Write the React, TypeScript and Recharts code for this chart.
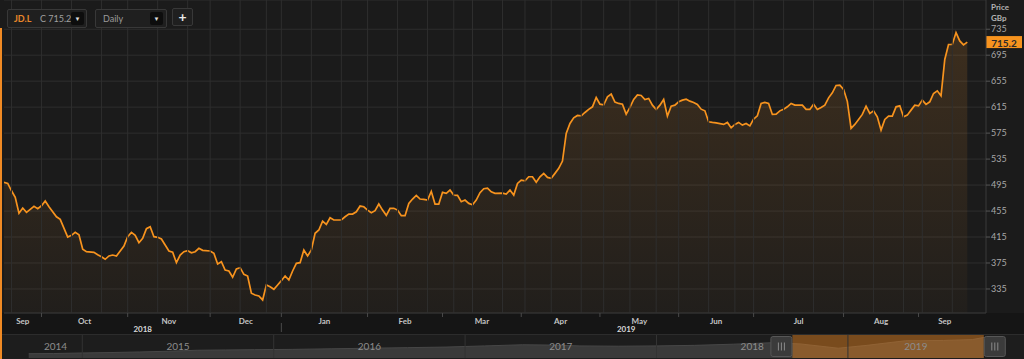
import React from 'react';
import { ComposedChart, AreaChart, Area, XAxis, YAxis, CartesianGrid, ReferenceLine, ReferenceArea } from 'recharts';

// trading-session index (0 = first session shown, mid Sep 2018)
const sessions = [0,1,2,3,4,5,6,7,8,9,10,11,12,14,15,17,18,19,20,21,22,24,25,26,27,28,29,30,32,33,34,35,36,37,38,39,40,41,42,43,44,45,46,47,48,49,50,51,52,53,55,56,57,58,59,60,61,62,63,64,65,66,67,68,69,70,71,72,73,74,75,76,77,78,79,80,81,82,83,84,85,86,87,88,90,91,92,93,94,95,96,97,98,99,100,101,102,103,104,105,106,107,108,109,110,111,112,113,114,115,116,117,118,119,120,121,122,123,124,125,126,127,128,129,130,131,133,134,135,136,137,138,139,140,141,142,143,144,145,146,147,148,149,150,151,152,153,154,155,156,157,158,159,160,161,162,163,164,165,166,167,168,169,170,171,172,173,174,175,176,177,178,179,180,181,182,183,184,185,186,187,188,189,190,192,193,194,195,196,197,198,199,200,201,202,203,204,205,206,207,208,209,210,211,213,214,215,216,217,218,219,220,221,222,223,224,225,226,227,228,229,230,231,232,233,234,235,236,237,238,239,240,241,242,243,244,245,246,247,248,249,250,251,252,253,254,255,256,257];

// JD.L close, GBp
const prices = [499.2,497.6,486.2,476.1,451.5,459.6,453.0,457.6,462.2,458.5,463.1,470.4,461.6,446.2,442.2,415.0,417.6,422.2,418.5,396.1,392.4,391.5,387.8,384.7,380.7,385.8,387.3,385.8,401.2,415.5,422.2,417.6,406.2,413.0,427.8,430.8,415.5,414.5,411.9,402.7,393.5,391.5,375.5,387.3,392.4,393.9,390.8,392.4,397.6,394.5,393.5,389.9,373.5,377.0,364.2,362.7,353.0,365.8,367.8,357.6,355.0,328.4,325.8,324.2,318.1,341.2,338.5,334.5,341.2,347.8,355.0,348.8,362.7,374.5,375.5,395.0,385.8,395.0,420.7,425.8,439.6,434.5,444.7,441.2,441.2,446.2,450.4,450.4,453.9,462.7,461.6,456.5,452.4,455.5,465.8,456.5,448.4,459.2,459.2,456.5,447.8,447.8,466.8,473.5,479.2,473.5,473.0,471.9,485.3,465.8,465.8,483.8,482.2,487.3,479.6,479.2,469.3,471.9,466.8,464.7,471.9,483.2,489.3,490.4,484.7,482.2,482.7,481.2,487.3,479.6,497.6,502.7,501.6,507.8,507.8,499.2,507.8,513.0,506.8,505.3,513.0,520.7,531.9,574.5,589.9,598.5,602.2,601.6,606.8,611.5,615.5,629.9,619.6,618.5,630.8,635.0,622.7,620.7,619.6,604.2,614.5,626.8,633.9,633.0,626.8,628.4,618.1,611.5,618.1,626.8,601.2,616.5,618.1,623.2,625.8,627.3,624.2,622.2,619.2,611.9,609.3,592.4,591.5,590.8,588.4,591.5,583.2,588.4,591.5,587.3,589.9,586.2,596.5,601.6,620.7,622.2,620.7,603.8,604.2,609.3,611.9,615.5,620.7,618.1,618.1,611.5,611.5,619.6,611.5,614.5,618.1,629.3,637.0,648.4,648.8,642.2,623.9,582.2,588.4,596.1,603.8,616.5,605.3,609.3,600.1,579.6,596.1,601.2,601.2,615.5,617.0,600.1,602.7,610.4,618.1,617.0,625.8,619.2,623.2,636.1,640.1,632.4,688.4,711.5,711.5,729.9,717.0,710.8,715.2];

const monthNames = ['Sep','Oct','Nov','Dec','Jan','Feb','Mar','Apr','May','Jun','Jul','Aug','Sep'];
const monthStartSessions = [10,33,55,74,97,117,138,159,180,200,224,244];
const yearNames = ['2018','2019'];
const yearStartSessions = [74];
const priceTicks = [335,375,415,455,495,535,575,615,655,695,735];
const gridSessions = [2,10,18,26,33,41,49,55,63,70,74,82,90,97,105,113,120,125,133,139,146,154,160,167,174,180,188,195,200,208,216,224,232,240,245,253];

// navigator (long history, approximate)
const navYears = [2014.72,2014.85,2015.0,2015.15,2015.3,2015.45,2015.6,2015.75,2015.9,2016.1,2016.3,2016.5,2016.7,2016.9,2017.1,2017.3,2017.45,2017.6,2017.8,2018.0,2018.2,2018.4,2018.6,2018.75,2018.95,2019.1,2019.3,2019.5,2019.65,2019.71];
const navValues = [150,155,175,190,210,235,270,280,290,300,320,340,360,380,420,460,450,420,410,420,440,480,530,490,340,440,600,610,640,715];
const navYearLabels = ['2014','2015','2016','2017','2018','2019'];
const navYearStarts = [2015,2016,2017,2018,2019];
const navSelection = [2018.71, 2019.71];

const ticker = 'JD.L';
const lastPrice = prices[prices.length - 1];

const data = sessions.map((s, i) => ({ s, p: prices[i] }));
const navData = navYears.map((t, i) => ({ t, v: navValues[i] }));

const lastSession = sessions[sessions.length - 1] + 1;
const monthBounds = [0, ...monthStartSessions, lastSession];
const monthLabelTicks = monthNames.map((_, i) => (monthBounds[i] + monthBounds[i + 1]) / 2);
const yearBounds = [0, ...yearStartSessions, lastSession];
const yearLabelTicks = yearNames.map((_, i) => (yearBounds[i] + yearBounds[i + 1]) / 2);
const navBounds = [navYears[0], ...navYearStarts, navYears[navYears.length - 1]];
const navLabelPos = navYearLabels.map((_, i) => (navBounds[i] + navBounds[i + 1]) / 2);

const FONT = 'Lato, "Open Sans", sans-serif';
const ORANGE = '#f7931e';

const MonthTick = (props: any) => {
  const { x, y, payload } = props;
  if (monthStartSessions.includes(payload.value)) {
    return <line x1={x} x2={x} y1={y} y2={y + 4} stroke="#4a4a4a" strokeWidth={1} />;
  }
  const idx = monthLabelTicks.indexOf(payload.value);
  return (
    <text x={x} y={y + 7.7} textAnchor="middle" dominantBaseline="central" fontSize={8} fontWeight={700} fill="#c4c4c4" fontFamily={FONT}>
      {monthNames[idx]}
    </text>
  );
};

const YearTick = (props: any) => {
  const { x, y, payload } = props;
  if (yearStartSessions.includes(payload.value)) {
    return <line x1={x} x2={x} y1={y - 2} y2={y + 7} stroke="#4a4a4a" strokeWidth={1} />;
  }
  const idx = yearLabelTicks.indexOf(payload.value);
  return (
    <text x={x} y={y + 4.3} textAnchor="middle" dominantBaseline="central" fontSize={8} fontWeight={700} fill="#d8d8d8" fontFamily={FONT}>
      {yearNames[idx]}
    </text>
  );
};

const PriceTag = (props: any) => {
  const vb = props.viewBox || {};
  const x = (vb.x || 0) + (vb.width || 0);
  const y = vb.y || 0;
  return (
    <g>
      <rect x={x} y={y - 6} width={36} height={12} fill={ORANGE} />
      <text x={x + 18} y={y + 0.5} textAnchor="middle" dominantBaseline="central" fontSize={10} fontWeight={700} fill="#2a2a2a" fontFamily={FONT}>
        {lastPrice.toFixed(1)}
      </text>
    </g>
  );
};

const Handle = ({ x, y, h }: { x: number; y: number; h: number }) => (
  <g>
    <rect x={x + 0.5} y={y + 1.5} width={21} height={h - 3} fill="#3b3b3b" stroke="#575757" rx={2} />
    {[0, 1, 2].map((k) => (
      <line key={k} x1={x + 8 + k * 3} x2={x + 8 + k * 3} y1={y + h / 2 - 4} y2={y + h / 2 + 4} stroke="#8a8a8a" strokeWidth={1} />
    ))}
  </g>
);

const SelectionShape = (props: any) => {
  const { x, y, width, height } = props;
  return (
    <g>
      <rect x={x} y={y} width={width} height={height} fill="rgba(232,130,30,0.46)" />
      <Handle x={x - 22} y={y} h={height} />
      <Handle x={x + width} y={y} h={height} />
    </g>
  );
};

const Box = ({ left, width, children }: any) => (
  <div style={{ position: 'absolute', left, top: 9, width, height: 19, boxSizing: 'border-box', background: '#1f1f1f', border: '1px solid #383838', borderRadius: 2, fontFamily: FONT, fontSize: 9, lineHeight: '17px' }}>
    {children}
  </div>
);

const Drop = ({ left }: { left: number }) => (
  <div style={{ position: 'absolute', left, top: 2, width: 13, height: 13, background: '#0d0d0d', borderRadius: 2, color: '#e0e0e0', fontSize: 6, lineHeight: '13px', textAlign: 'center' }}>▼</div>
);

export default function App() {
  const months = [...monthLabelTicks, ...monthStartSessions];
  const years = [...yearLabelTicks, ...yearStartSessions];
  return (
    <div style={{ position: 'fixed', left: 0, top: 0, width: 1024, height: 359, background: '#1b1b1b', overflow: 'hidden' }}>
      <div style={{ position: 'absolute', left: 0, top: 313, width: 1024, height: 21, background: '#151515' }} />
      <div style={{ position: 'absolute', left: 0, top: 334, width: 1024, height: 25, background: '#1d1d1d', borderTop: '1px solid #2c2c2c', boxSizing: 'border-box' }} />
      <div style={{ position: 'absolute', left: 0, top: 0 }}>
        <ComposedChart width={1024} height={359} data={data} margin={{ top: 0, right: 0, bottom: 24, left: 4 }}>
          <defs>
            <linearGradient id="fillGrad" x1="0" y1="0" x2="0" y2="313" gradientUnits="userSpaceOnUse">
              <stop offset="0%" stopColor="#e8902e" stopOpacity={0.3} />
              <stop offset="100%" stopColor="#e8902e" stopOpacity={0.05} />
            </linearGradient>
          </defs>
          <CartesianGrid xAxisId="main" vertical={false} stroke="#2e2e2e" />
          <XAxis xAxisId="main" dataKey="s" type="number" domain={[0, 262]} allowDataOverflow ticks={months} tick={<MonthTick />} tickLine={false} axisLine={{ stroke: '#333333' }} tickSize={0} tickMargin={0} height={12} interval={0} />
          <XAxis xAxisId="years" dataKey="s" type="number" domain={[0, 262]} allowDataOverflow ticks={years} tick={<YearTick />} tickLine={false} axisLine={false} tickSize={0} tickMargin={0} height={10} interval={0} />
          <YAxis orientation="right" width={38} domain={[298, 780]} allowDataOverflow ticks={priceTicks} tickSize={4} tickMargin={1} tickLine={{ stroke: '#555555' }} axisLine={{ stroke: '#3a3a3a' }} tick={{ fill: '#a8a8a8', fontSize: 9, fontFamily: FONT, textAnchor: 'start' }} interval={0} />
          {gridSessions.map((g) => (
            <ReferenceLine key={'g' + g} xAxisId="main" x={g} stroke="#2e2e2e" strokeWidth={1} />
          ))}
          <Area xAxisId="main" type="linear" dataKey="p" stroke={ORANGE} strokeWidth={1.7} fill="url(#fillGrad)" isAnimationActive={false} dot={false} activeDot={false} />
          <ReferenceLine xAxisId="main" y={lastPrice} stroke="none" label={<PriceTag />} />
        </ComposedChart>
      </div>
      <div style={{ position: 'absolute', left: 0, top: 335 }}>
        <AreaChart width={1024} height={23} data={navData} margin={{ top: 0, right: 0, bottom: 0, left: 0 }}>
          <XAxis dataKey="t" type="number" domain={[2014.57, 2019.92]} allowDataOverflow hide />
          <YAxis domain={[0, 800]} allowDataOverflow hide />
          {navYearStarts.map((y) => (
            <ReferenceLine key={'ny' + y} x={y} stroke="#333333" />
          ))}
          <Area type="linear" dataKey="v" stroke="#474747" strokeWidth={1} fill="#3a3a3a" fillOpacity={1} isAnimationActive={false} dot={false} activeDot={false} />
          {navLabelPos.map((p, i) => (
            <ReferenceLine key={'nl' + i} x={p} stroke="none" label={{ value: navYearLabels[i], position: 'center', fill: '#8c8c8c', fontSize: 10, fontFamily: FONT }} />
          ))}
          <ReferenceArea x1={navSelection[0]} x2={navSelection[1]} shape={<SelectionShape />} ifOverflow="visible" />
        </AreaChart>
      </div>
      <div style={{ position: 'absolute', left: 0, top: 28, width: 2, height: 331, background: '#f08a24' }} />
      <Box left={7} width={80}>
        <span style={{ position: 'absolute', left: 6, color: '#e8862a', fontWeight: 700 }}>{ticker}</span>
        <span style={{ position: 'absolute', left: 32, color: '#a0a0a0' }}>C {lastPrice.toFixed(1)}</span>
        <Drop left={63} />
      </Box>
      <Box left={95} width={72}>
        <span style={{ position: 'absolute', left: 7, color: '#9a9a9a' }}>Daily</span>
        <Drop left={54} />
      </Box>
      <div style={{ position: 'absolute', left: 172, top: 8, width: 21, height: 18, boxSizing: 'border-box', background: '#1f1f1f', border: '1px solid #383838', borderRadius: 2, color: '#e8e8e8', fontFamily: FONT, fontSize: 14, fontWeight: 700, lineHeight: '15px', textAlign: 'center' }}>+</div>
      <div style={{ position: 'absolute', left: 991, top: 2, color: '#b4b4b4', fontFamily: FONT, fontSize: 8, fontWeight: 700, lineHeight: '11px' }}>
        <div>Price</div>
        <div>GBp</div>
      </div>
    </div>
  );
}
